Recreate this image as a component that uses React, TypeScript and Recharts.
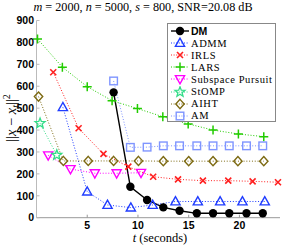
import React from "react"
import { LineChart, Line, XAxis, YAxis } from "recharts"

// time (seconds) and error values per method
const dmT = [7.6, 9.25, 10.9, 12.5, 14.1, 15.8, 17.4, 19.0, 20.7, 22.3]
const dmV = [572, 141, 81, 47, 32, 20, 20, 20, 20, 20]
const admmT = [2.6, 5.0, 7.0, 9.3, 11.45, 13.7, 15.9, 18.1, 20.3, 22.5]
const admmV = [504, 119, 58, 46, 58, 74, 74, 74, 74, 74]
const irlsT = [1.65, 4.15, 6.6, 9.05, 11.5, 13.95, 16.4, 18.9, 21.3, 23.8]
const irlsV = [664, 408, 291, 233, 187, 175, 169, 169, 166, 162]
const larsT = [0.1, 2.55, 5.0, 7.45, 9.95, 12.45, 14.95, 17.4, 19.9, 22.4]
const larsV = [816, 687, 598, 534, 498, 461, 428, 400, 382, 370]
const spT = [1.15, 3.35, 5.75, 7.9, 10.3]
const spV = [285, 222, 203, 203, 205]
const stompT = [0.35, 2.0]
const stompV = [431, 286]
const aihtT = [0.2, 2.65, 5.1, 7.6, 10.05, 12.5, 15.0, 17.4, 19.85, 22.4]
const aihtV = [553, 259, 259, 259, 259, 258, 258, 258, 258, 258]
const amT = [7.6, 9.25, 10.9, 12.5, 14.1, 15.8, 17.4, 19.0, 20.7, 22.3]
const amV = [624, 321, 322, 328, 328, 328, 328, 328, 328, 328]

const xTicks = [5, 10, 15, 20]
const yTicks = [0, 100, 200, 300, 400, 500, 600, 700, 800, 900]

type Kind = "circle" | "tri" | "x" | "plus" | "triDown" | "star" | "diamond" | "square"

const zip = (t: number[], v: number[]) => t.map((x, i) => ({ t: x, v: v[i] }))

const series = [
  { name: "DM", kind: "circle" as Kind, color: "#000000", solid: true, data: zip(dmT, dmV) },
  { name: "ADMM", kind: "tri" as Kind, color: "#1f3cff", data: zip(admmT, admmV) },
  { name: "IRLS", kind: "x" as Kind, color: "#ff2020", data: zip(irlsT, irlsV) },
  { name: "LARS", kind: "plus" as Kind, color: "#22cc00", data: zip(larsT, larsV) },
  { name: "Subspace Pursuit", kind: "triDown" as Kind, color: "#ff00ff", data: zip(spT, spV) },
  { name: "StOMP", kind: "star" as Kind, color: "#33dd88", data: zip(stompT, stompV) },
  { name: "AIHT", kind: "diamond" as Kind, color: "#7d6a12", data: zip(aihtT, aihtV) },
  { name: "AM", kind: "square" as Kind, color: "#7f95ff", data: zip(amT, amV) },
]

function marker(kind: Kind, cx: number, cy: number, color: string, key?: string | number) {
  const s = { stroke: color, fill: "none", strokeWidth: 1.4 }
  switch (kind) {
    case "circle":
      return <circle key={key} cx={cx} cy={cy} r={4.2} fill={color} />
    case "tri":
      return <polygon key={key} points={`${cx},${cy - 4.8} ${cx - 4.6},${cy + 3.4} ${cx + 4.6},${cy + 3.4}`} {...s} />
    case "triDown":
      return <polygon key={key} points={`${cx - 4.6},${cy - 3.4} ${cx + 4.6},${cy - 3.4} ${cx},${cy + 4.8}`} {...s} />
    case "x":
      return <path key={key} d={`M${cx - 3},${cy - 3}L${cx + 3},${cy + 3}M${cx - 3},${cy + 3}L${cx + 3},${cy - 3}`} {...s} strokeWidth={1.6} />
    case "plus":
      return <path key={key} d={`M${cx - 4.5},${cy}L${cx + 4.5},${cy}M${cx},${cy - 4.5}L${cx},${cy + 4.5}`} {...s} strokeWidth={1.5} />
    case "diamond":
      return <polygon key={key} points={`${cx},${cy - 4.6} ${cx + 4.2},${cy} ${cx},${cy + 4.6} ${cx - 4.2},${cy}`} {...s} />
    case "square":
      return <rect key={key} x={cx - 3.8} y={cy - 3.8} width={7.6} height={7.6} {...s} />
    case "star": {
      let d = ""
      for (let i = 0; i < 10; i++) {
        const r = i % 2 === 0 ? 5.2 : 2.2
        const a = -Math.PI / 2 + (i * Math.PI) / 5
        d += (i === 0 ? "M" : "L") + (cx + r * Math.cos(a)).toFixed(2) + "," + (cy + r * Math.sin(a)).toFixed(2)
      }
      return <path key={key} d={d + "Z"} {...s} strokeWidth={1.3} />
    }
  }
}

const tickStyle = { fontFamily: "Liberation Sans, Arial, sans-serif", fontWeight: 700, fontSize: 10.5, fill: "#000" }

function Legend() {
  return (
    <div
      style={{
        position: "absolute", left: 167, top: 23, width: 109, height: 99,
        border: "1px solid #888", background: "#fff", boxSizing: "border-box",
      }}
    >
      {series.map((s, i) => (
        <div key={s.name} style={{ position: "absolute", left: 0, top: 1 + i * 12.1, height: 12, display: "flex", alignItems: "center" }}>
          <svg width={22} height={12} style={{ display: "block" }}>
            <line x1={3} x2={21} y1={6} y2={6} stroke={s.color} strokeWidth={s.solid ? 1.4 : 1} strokeDasharray={s.solid ? undefined : "1 1.6"} />
            {marker(s.kind, 12, 6, s.color)}
          </svg>
          <span
            style={
              s.solid
                ? { fontFamily: "Liberation Sans, Arial, sans-serif", fontWeight: 700, fontSize: 10.5, marginLeft: 1 }
                : { fontFamily: "Liberation Serif, Times New Roman, serif", fontSize: 10.5, letterSpacing: 0.6, marginLeft: 1 }
            }
          >
            {s.name}
          </span>
        </div>
      ))}
    </div>
  )
}

export default function App() {
  return (
    <div style={{ position: "absolute", left: 0, top: 0, width: 285, height: 245, background: "#fff" }}>
      <LineChart width={285} height={245} margin={{ top: 20.5, right: 5, left: 0, bottom: 0 }}>
        <XAxis
          type="number"
          dataKey="t"
          domain={[0, 24]}
          ticks={xTicks}
          allowDuplicatedCategory={false}
          height={27.3}
          stroke="#999"
          tick={tickStyle}
          tickSize={-3}
          tickMargin={7}
        />
        <YAxis
          type="number"
          dataKey="v"
          domain={[0, 900]}
          ticks={yTicks}
          width={36.5}
          stroke="#bbb"
          tick={tickStyle}
          tickSize={-3}
          tickMargin={5.5}
          interval={0}
        />
        {series.map((s) => (
          <Line
            key={s.name}
            data={s.data}
            dataKey="v"
            name={s.name}
            type="linear"
            stroke={s.color}
            strokeWidth={s.solid ? 1.4 : 1}
            strokeDasharray={s.solid ? undefined : "1 1.8"}
            isAnimationActive={false}
            dot={(p: any) => marker(s.kind, p.cx, p.cy, s.color, `${s.name}-${p.index}`)}
            activeDot={false}
          />
        ))}
      </LineChart>
      <svg width={285} height={245} style={{ position: "absolute", left: 0, top: 0, pointerEvents: "none" }}>
        <text x={143} y={11} textAnchor="middle" fontFamily="Liberation Serif, Times New Roman, serif" fontSize={12.2}>
          <tspan fontStyle="italic">m</tspan> = 2000, <tspan fontStyle="italic">n</tspan> = 5000, <tspan fontStyle="italic">s</tspan> = 800, SNR=20.08 dB
        </text>
        <text x={160} y={242} textAnchor="middle" fontFamily="Liberation Serif, Times New Roman, serif" fontSize={12.5}>
          <tspan fontStyle="italic">t</tspan> (seconds)
        </text>
        <text
          transform="translate(16,118) rotate(-90)"
          textAnchor="middle"
          fontFamily="Liberation Serif, Times New Roman, serif"
          fontSize={14.5}
        >
          ||<tspan fontStyle="italic">x</tspan> − <tspan fontStyle="italic">x</tspan>
          <tspan fontStyle="italic" fontSize={10} dy={3}>t</tspan>
          <tspan dy={-3}>||</tspan>
          <tspan fontSize={10} dy={-6}>2</tspan>
        </text>
      </svg>
      <Legend />
    </div>
  )
}
